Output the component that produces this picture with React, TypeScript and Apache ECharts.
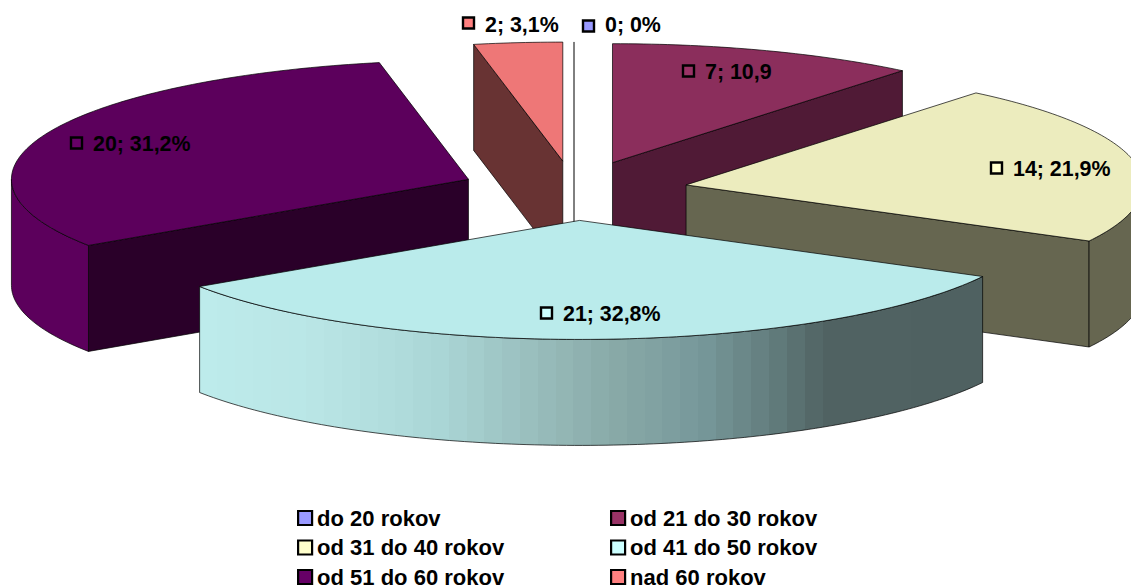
import React, { useEffect, useRef } from "react";
import * as echarts from "echarts";

const categories = ["do 20 rokov", "od 21 do 30 rokov", "od 31 do 40 rokov", "od 41 do 50 rokov", "od 51 do 60 rokov", "nad 60 rokov"];
const counts = [0, 7, 14, 21, 20, 2];
const labelTexts = ["0; 0%", "7; 10,9", "14; 21,9%", "21; 32,8%", "20; 31,2%", "2; 3,1%"];

const legendColors = ["#9999FF", "#993366", "#FFFFCC", "#CCFFFF", "#660066", "#FF8080"];
const topColors = ["#9999FF", "#8B2E5C", "#ECECBE", "#BAEBEB", "#5C005C", "#EE7777"];
const faceColors = ["#555588", "#501A36", "#666650", "#6E8A8A", "#2A0029", "#683333"];
const rimColors = ["#9999FF", "#8B2E5C", "#666650", "#6E8A8A", "#5C005C", "#EE7777"];
const drawOrder = [1, 5, 0, 4, 2, 3];
const labelKeyX = [582, 682, 990, 540, 70, 462];
const labelKeyY = [26, 71, 168, 313, 143, 23];
const labelTextY = [25, 72, 169, 314, 144, 25];

const GEO = { cx: 574, cy: 190.7, a: 457, b: 119, explode: 0.25, depth: 106 };
const FONT = "'Liberation Sans', Arial, sans-serif";

const rimShades: [number, number[]][] = [
  [0, [189, 235, 235]],
  [0.14, [186, 230, 230]],
  [0.3, [171, 215, 215]],
  [0.42, [154, 191, 190]],
  [0.52, [138, 171, 169]],
  [0.64, [119, 152, 154]],
  [0.74, [96, 122, 122]],
  [0.8, [80, 98, 98]],
  [1, [79, 97, 97]],
];

const total = counts.reduce((s, v) => s + v, 0);
const DEG = Math.PI / 180;
function startAngle(i: number) {
  let s = 0;
  for (let k = 0; k < i; k++) s += counts[k];
  return (s / total) * 360;
}

function pt(apex: number[], deg: number, dy = 0) {
  return [apex[0] + GEO.a * Math.sin(deg * DEG), apex[1] - GEO.b * Math.cos(deg * DEG) + dy];
}
function arcPoints(apex: number[], s: number, e: number, dy = 0) {
  const pts: number[][] = [];
  const n = Math.max(1, Math.ceil(e - s));
  for (let i = 0; i <= n; i++) pts.push(pt(apex, s + ((e - s) * i) / n, dy));
  return pts;
}
function toPath(pts: number[][]) {
  return pts.map((p, i) => (i ? "L" : "M") + p[0].toFixed(2) + " " + p[1].toFixed(2)).join(" ") + " Z";
}

function shadeAt(t: number) {
  for (let k = 1; k < rimShades.length; k++) {
    if (t <= rimShades[k][0]) {
      const [t0, c0] = rimShades[k - 1];
      const [t1, c1] = rimShades[k];
      const f = (t - t0) / (t1 - t0);
      const c = c0.map((v, j) => Math.round(v + (c1[j] - v) * f));
      return `rgb(${c[0]},${c[1]},${c[2]})`;
    }
  }
  return "rgb(79,97,97)";
}

function rimFill(i: number) {
  if (i !== 3) return rimColors[i];
  const bands = 44;
  const stops: { offset: number; color: string }[] = [];
  for (let b = 0; b < bands; b++) {
    const color = shadeAt((b + 0.5) / bands);
    stops.push({ offset: b / bands, color }, { offset: (b + 1) / bands, color });
  }
  return new echarts.graphic.LinearGradient(0, 0, 1, 0, stops);
}

function renderSlice(i: number) {
  return (_params: any, api: any) => {
    const value = api.value(0);
    const s = startAngle(i);
    const e = s + (value / total) * 360;
    const mid = (s + e) / 2;
    const apex = [
      GEO.cx + GEO.a * GEO.explode * Math.sin(mid * DEG),
      GEO.cy - GEO.b * GEO.explode * Math.cos(mid * DEG),
    ];
    const stroke = { stroke: "#000", lineWidth: 0.7 };
    const children: any[] = [];
    const M = pt(apex, mid);
    if (value === 0) {
      const P = pt(apex, s);
      children.push({
        type: "line",
        shape: { x1: P[0], y1: P[1], x2: apex[0], y2: apex[1] + GEO.depth },
        style: { stroke: "#000", lineWidth: 1 },
      });
    } else {
      // radial walls
      for (const ang of [s, e]) {
        const P = pt(apex, ang);
        const ex = P[0] - apex[0];
        const ey = P[1] - apex[1];
        const sideDown = ex * GEO.depth;
        const sideMid = ex * (M[1] - apex[1]) - ey * (M[0] - apex[0]);
        if (sideDown * sideMid < 0) {
          children.push({
            type: "path",
            shape: {
              pathData: toPath([apex, P, [P[0], P[1] + GEO.depth], [apex[0], apex[1] + GEO.depth]]),
            },
            style: { fill: faceColors[i], ...stroke },
          });
        }
      }
      // outer rim
      const rs = Math.max(s, 90);
      const re = Math.min(e, 270);
      if (re > rs) {
        const top = arcPoints(apex, rs, re);
        const bottom = arcPoints(apex, rs, re, GEO.depth).reverse();
        children.push({
          type: "path",
          shape: { pathData: toPath(top.concat(bottom)) },
          style: { fill: rimFill(i), ...stroke },
        });
      }
      // top face
      children.push({
        type: "path",
        shape: { pathData: toPath([apex].concat(arcPoints(apex, s, e))) },
        style: { fill: topColors[i], ...stroke },
      });
    }
    // data label
    children.push({
      type: "rect",
      shape: { x: labelKeyX[i] + 1, y: labelKeyY[i] - 5.5, width: 11, height: 11 },
      style: { fill: legendColors[i], stroke: "#000", lineWidth: 2.4 },
      z2: 10,
    });
    children.push({
      type: "text",
      style: {
        x: labelKeyX[i] + 23,
        y: labelTextY[i],
        text: labelTexts[i],
        fill: "#000",
        font: "bold 21.4px " + FONT,
        textAlign: "left",
        textVerticalAlign: "middle",
      },
      z2: 10,
    });
    return { type: "group", children };
  };
}

function legendData(idx: number[]) {
  return idx.map((i) => ({
    name: categories[i],
    icon: "rect",
    itemStyle: { color: legendColors[i], borderColor: "#000", borderWidth: 2.2 },
  }));
}
function makeLegend(left: number, idx: number[]) {
  return {
    left,
    top: 507,
    height: 120,
    orient: "vertical",
    align: "left",
    padding: 0,
    itemWidth: 14,
    itemHeight: 14,
    itemGap: 7.5,
    selectedMode: false,
    data: legendData(idx),
    textStyle: { fontFamily: FONT, fontWeight: "bold", fontSize: 22, lineHeight: 22, color: "#000" },
  };
}

export default function App() {
  const ref = useRef<HTMLDivElement>(null);
  useEffect(() => {
    document.body.style.margin = "0";
    const chart = echarts.init(ref.current!, undefined, { renderer: "svg" });
    chart.setOption({
      animation: false,
      backgroundColor: "#fff",
      legend: [makeLegend(297, [0, 2, 4]), makeLegend(610, [1, 3, 5])],
      series: drawOrder.map((i) => ({
        type: "custom",
        name: categories[i],
        coordinateSystem: "none",
        silent: true,
        itemStyle: { color: legendColors[i] },
        data: [[counts[i]]],
        renderItem: renderSlice(i),
      })),
    });
    return () => chart.dispose();
  }, []);
  return <div ref={ref} style={{ position: "absolute", left: 0, top: 0, width: 1131, height: 588 }} />;
}
